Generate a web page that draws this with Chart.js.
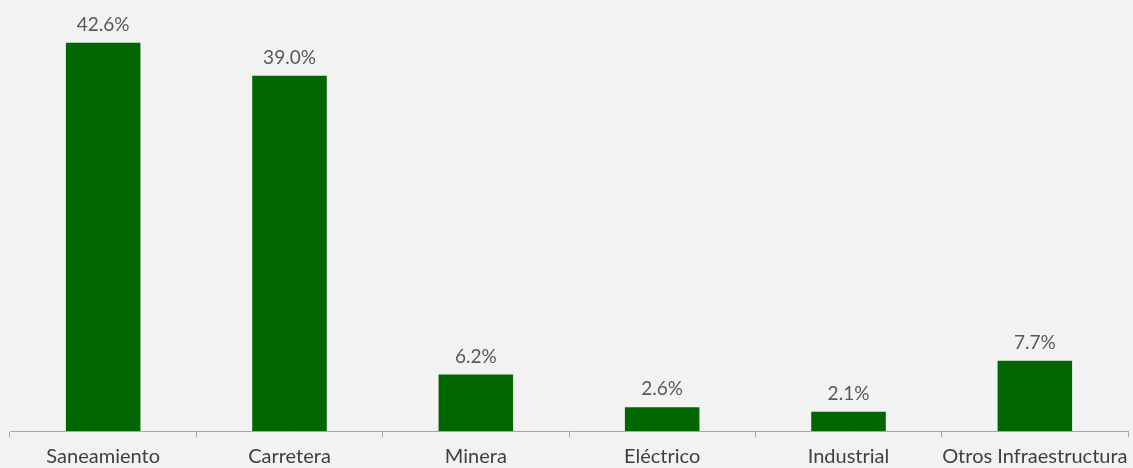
<!DOCTYPE html>
<html>
<head>
<meta charset="utf-8">
<script src="https://cdn.jsdelivr.net/npm/chart.js@4/dist/chart.umd.min.js"></script>
<style>
  html, body { margin: 0; padding: 0; background: #f2f2f2; }
  #wrap { width: 1133px; height: 468px; }
</style>
</head>
<body>
<div id="wrap"><canvas id="barChart"></canvas></div>
<script>
'use strict';
var categories = ['Saneamiento', 'Carretera', 'Minera', 'Eléctrico', 'Industrial', 'Otros Infraestructura'];
var shares = [42.6, 39.0, 6.2, 2.6, 2.1, 7.7];

/* etiquetas encima de cada barra */
var valueLabels = {
  id: 'valueLabels',
  afterDatasetsDraw: function(chart) {
    var ctx = chart.ctx;
    var meta = chart.getDatasetMeta(0);
    ctx.save();
    ctx.font = '19px Lato';
    ctx.fillStyle = '#595959';
    ctx.textAlign = 'center';
    ctx.textBaseline = 'alphabetic';
    meta.data.forEach(function(bar, i) {
      ctx.fillText(shares[i].toFixed(1) + '%', bar.x, bar.y - 12);
    });
    ctx.restore();
  }
};

var bar = document.getElementById('barChart').getContext('2d');
var myBarChart = new Chart(bar, {
  type: 'bar',
  data: {
    labels: categories,
    datasets: [{
      data: shares,
      backgroundColor: '#006600',
      borderWidth: 0,
      categoryPercentage: 1,
      barPercentage: 0.4
    }]
  },
  options: {
    responsive: true,
    maintainAspectRatio: false,
    animation: false,
    layout: { padding: { top: 21, left: 10, right: 5, bottom: 0 } },
    plugins: {
      legend: { display: false },
      tooltip: { enabled: false }
    },
    scales: {
      y: { display: false, min: 0, max: 45 },
      x: {
        offset: true,
        afterFit: function(scale) {
          scale.height = 37;
          scale.paddingLeft = 0;
          scale.paddingRight = 0;
        },
        grid: {
          offset: true,
          drawOnChartArea: false,
          drawTicks: true,
          tickLength: 6,
          color: '#a6a6a6'
        },
        border: { color: '#a6a6a6', width: 1 },
        ticks: {
          padding: 8,
          maxRotation: 0,
          autoSkip: false,
          color: '#404040',
          font: { family: 'Lato', size: 20 }
        }
      }
    }
  },
  plugins: [valueLabels]
});
</script>
</body>
</html>
